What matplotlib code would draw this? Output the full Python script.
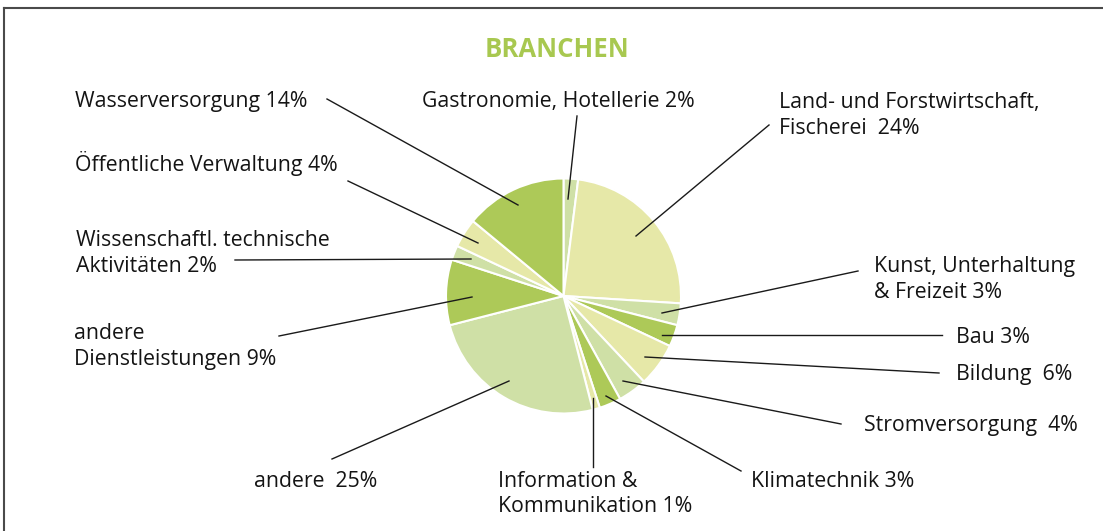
import numpy as np
import matplotlib; matplotlib.use("Agg"); import matplotlib.pyplot as plt

W, H = 1103, 531

# data (clockwise from 12 o'clock)
labels = ["Gastronomie, Hotellerie 2%", "Land- und Forstwirtschaft,\nFischerei  24%",
          "Kunst, Unterhaltung\n& Freizeit 3%", "Bau 3%", "Bildung  6%",
          "Stromversorgung  4%", "Klimatechnik 3%", "Information &\nKommunikation 1%",
          "andere  25%", "andere\nDienstleistungen 9%", "Wissenschaftl. technische\nAktivitäten 2%",
          "Öffentliche Verwaltung 4%", "Wasserversorgung 14%"]
shares = [2, 24, 3, 3, 6, 4, 3, 1, 25, 9, 2, 4, 14]

MID, LIGHT, PALE = "#adc958", "#cfe0a6", "#e6e8a8"
colors = [LIGHT, PALE, LIGHT, MID, PALE, LIGHT, MID, PALE, LIGHT, MID, LIGHT, PALE, MID]

# layout in pixel coords (y down): text left x, first baseline y, leader line (x0,y0)->(x1,y1)
text_pos = [(422, 107), (779, 108), (874, 272), (956, 343), (956, 380), (864, 431),
            (751, 487), (498, 487), (254, 487), (74, 339), (76, 246), (75, 171), (75, 107)]
leaders = [((577, 116), (568, 199)), ((769, 125), (636, 236)), ((858, 271), (662, 313)),
           ((942, 335), (662, 335)), ((939, 373), (645, 357)), ((841, 424), (623, 381)),
           ((741, 471), (606, 396)), ((593, 467), (593, 398)), ((332, 459), (509, 381)),
           ((279, 336), (472, 297)), ((235, 260), (471, 259)), ((348, 181), (478, 243)),
           ((327, 99), (518, 205))]

plt.rcParams["font.family"] = ["Open Sans", "DejaVu Sans"]
fig = plt.figure(figsize=(W/100, H/100), dpi=100)
ax = fig.add_axes([0, 0, 1, 1])

ax.pie(shares, colors=colors, startangle=90, counterclock=False,
       center=(563.5, H-296), radius=117.5,
       wedgeprops=dict(edgecolor="white", linewidth=1.5), frame=True)
ax.set_xlim(0, W); ax.set_ylim(0, H); ax.axis("off")
ax.set_aspect("equal")

for (p0, p1) in leaders:
    ax.plot([p0[0], p1[0]], [H-p0[1], H-p1[1]], color="#1a1a1a", lw=1.0)

for lbl, (x, y) in zip(labels, text_pos):
    for i, line in enumerate(lbl.split("\n")):
        ax.text(x, H-(y+i*25.5), line, fontsize=15.3, color="#141414",
                ha="left", va="baseline")

ax.text(557, H-57, "BRANCHEN", fontsize=18.5, fontweight="bold",
        color="#a8c850", ha="center", va="baseline")

# frame (top and left only)
ax.plot([4, W], [H-7.5, H-7.5], color="#4a4a4a", lw=1.5, clip_on=False)
ax.plot([4, 4], [H-7.5, 0], color="#4a4a4a", lw=1.5, clip_on=False)

fig.savefig("out.png", dpi=100)
